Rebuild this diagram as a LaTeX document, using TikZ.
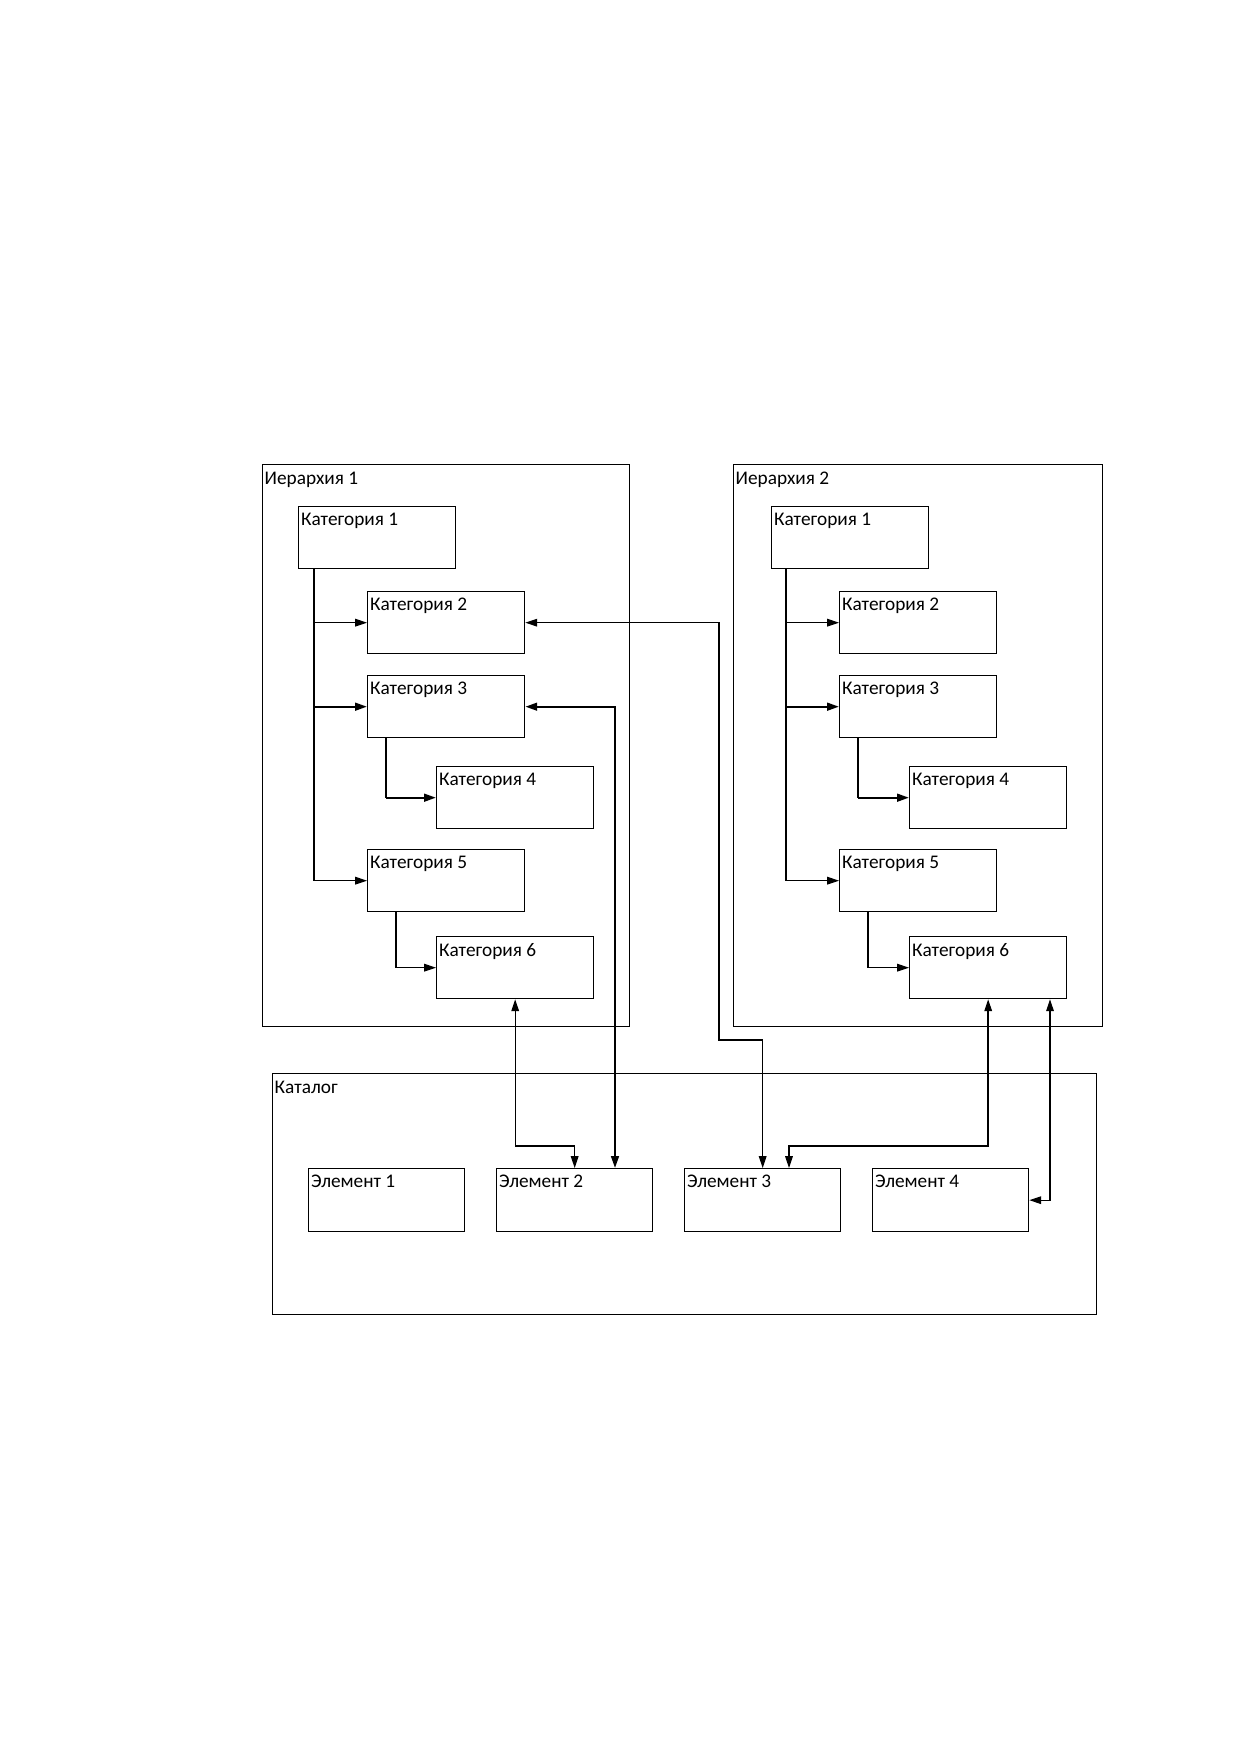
\documentclass[tikz,border=0pt]{standalone}
\usepackage{fontspec}
\setmainfont{Carlito}
\usetikzlibrary{arrows.meta, positioning}

\newcommand\pxs{0.16935mm}

\tikzset{
  box/.style={draw, line width=0.65pt, anchor=north west, inner sep=0pt,
    minimum width=157*\pxs, minimum height=62*\pxs, label={[txt]north west:#1}},
  area/.style={draw, line width=0.65pt, anchor=north west, inner sep=0pt,
    label={[ftxt]north west:#1}},
  txt/.style={anchor=north west, inner xsep=1.3pt, inner ysep=3.2pt,
    font=\fontsize{9.3}{11}\selectfont},
  ftxt/.style={txt, inner xsep=1.1pt, inner ysep=3.8pt},
  slim/.style={line width=0.5pt},
  heavy/.style={line width=1.05pt},
  arr/.style={-{Triangle[length=2mm,width=1.3mm]}},
  arrs/.style={{Triangle[length=2mm,width=1.3mm]}-{Triangle[length=2mm,width=1.3mm]}}
}

\begin{document}
\begin{tikzpicture}[x=\pxs, y=-\pxs]
        \useasboundingbox (0,0) rectangle (1240,1754);

        % frames
        \node[area=Иерархия 1, minimum width=367*\pxs, minimum height=562*\pxs] (h1) at (262,464) {};
        \node[area=Иерархия 2, minimum width=369*\pxs, minimum height=562*\pxs] (h2) at (733,464) {};
        \node[area=Каталог, minimum width=824*\pxs, minimum height=241*\pxs] (cat) at (272,1073) {};

        % hierarchy 1
        \node[box=Категория 1] (a1) at (298,506) {};
        \node[box=Категория 2] (a2) at (367,591) {};
        \node[box=Категория 3] (a3) at (367,675) {};
        \node[box=Категория 4] (a4) at (436,766) {};
        \node[box=Категория 5] (a5) at (367,849) {};
        \node[box=Категория 6] (a6) at (436,936) {};

        % hierarchy 2
        \node[box=Категория 1] (b1) at (771,506) {};
        \node[box=Категория 2] (b2) at (839,591) {};
        \node[box=Категория 3] (b3) at (839,675) {};
        \node[box=Категория 4] (b4) at (909,766) {};
        \node[box=Категория 5] (b5) at (839,849) {};
        \node[box=Категория 6] (b6) at (909,936) {};

        % catalog
        \node[box=Элемент 1, minimum width=156*\pxs, minimum height=63*\pxs] (e1) at (308,1168) {};
        \node[box=Элемент 2, minimum width=156*\pxs, minimum height=63*\pxs] (e2) at (496,1168) {};
        \node[box=Элемент 3, minimum width=156*\pxs, minimum height=63*\pxs] (e3) at (684,1168) {};
        \node[box=Элемент 4, minimum width=156*\pxs, minimum height=63*\pxs] (e4) at (872,1168) {};

        % helper columns and rows
        \coordinate (ta) at (314,0);
        \coordinate (tb) at (386,0);
        \coordinate (tc) at (396,0);
        \coordinate (ua) at (786,0);
        \coordinate (ub) at (858,0);
        \coordinate (uc) at (868,0);
        \coordinate (tq) at (615,0);
        \coordinate (tr) at (789,0);
        \coordinate (ts) at (1050,0);
        \coordinate (m1) at (0,1146);
        \coordinate (p1) at (719,1040);

        % links inside hierarchy 1
        \draw[slim,arr] (ta |- a1.south) |- (a5.west);
        \draw[slim,arr] (ta |- a2.west) -- (a2.west);
        \draw[heavy,arr] (ta |- a3.west) -- (a3.west);
        \draw[slim] (tb |- a3.south) -- (tb |- a4.west);
        \draw[heavy,arr] (tb |- a4.west) -- (a4.west);
        \draw[slim,arr] (tc |- a5.south) |- (a6.west);

        % links inside hierarchy 2
        \draw[heavy] (ua |- b1.south) -- (ua |- b5.west);
        \draw[slim,arr] (ua |- b5.west) -- (b5.west);
        \draw[slim,arr] (ua |- b2.west) -- (b2.west);
        \draw[heavy,arr] (ua |- b3.west) -- (b3.west);
        \draw[slim] (ub |- b3.south) -- (ub |- b4.west);
        \draw[heavy,arr] (ub |- b4.west) -- (b4.west);
        \draw[slim,arr] (uc |- b5.south) |- (b6.west);

        % links to the catalog
        \draw[slim,arrs] (a2.east) -| (p1) -| (e3.north);
        \draw[heavy,arrs] (a3.east) -| (tq |- e2.north);
        \draw[slim,arrs] (a6.south) -- (a6.south |- m1) -| (e2.north);
        \draw[slim,arrs] (b6.south) -- (b6.south |- m1) -| (tr |- e3.north);
        \draw[heavy,shorten <=2mm] (b6.south) -- (b6.south |- m1);
        \draw[slim,arrs] (ts |- b6.south) |- (e4.east);
\end{tikzpicture}
\end{document}
